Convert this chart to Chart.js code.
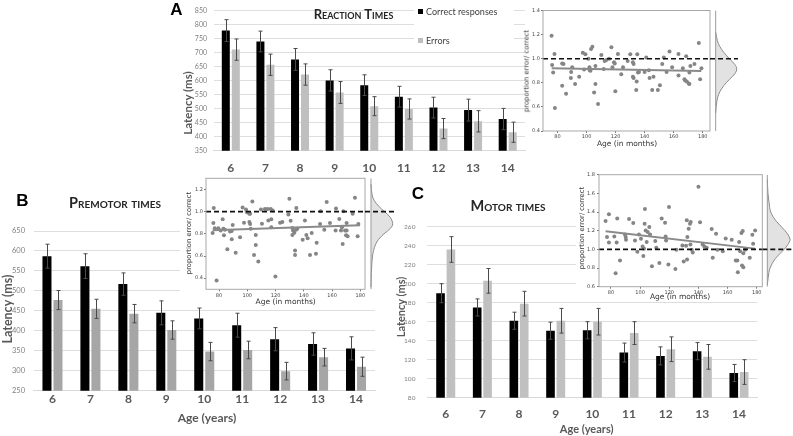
<!DOCTYPE html>
<html><head><meta charset="utf-8">
<script src="https://cdn.jsdelivr.net/npm/chart.js@4.4.1/dist/chart.umd.min.js"></script>
<style>
html,body{margin:0;padding:0;background:#fff;}
#wrap{position:relative;width:793px;height:436px;overflow:hidden;background:#fff;}
canvas{position:absolute;left:0;top:0;}
.t{position:absolute;white-space:nowrap;line-height:1;transform:translate(-50%,-50%);}
.r{transform:translate(-50%,-50%) rotate(-90deg);}
.letter{font-family:'Liberation Sans',Arial,sans-serif;font-weight:bold;font-size:17px;color:#000;}
.title{font-family:Lato,sans-serif;font-weight:bold;font-variant:small-caps;color:#262626;}
.lat{font-family:Lato,sans-serif;font-weight:bold;color:#595959;}
.ins{font-family:'DejaVu Sans',sans-serif;color:#333;}
.white{position:absolute;background:#fff;}
.leg{position:absolute;font-family:Lato,sans-serif;font-size:9px;color:#404040;line-height:1;white-space:nowrap;}
.sq{position:absolute;width:5px;height:5px;}
</style></head>
<body>
<div id="wrap">
<canvas id="barA" width="793" height="436"></canvas>
<canvas id="barB" width="793" height="436"></canvas>
<canvas id="barC" width="793" height="436"></canvas>
<div class="white" style="left:414px;top:3px;width:100px;height:43px"></div>
<div class="white" style="left:180px;top:172px;width:220px;height:134px"></div>
<div class="white" style="left:576px;top:166px;width:217px;height:136px"></div>
<canvas id="scA" width="793" height="436"></canvas>
<canvas id="dnA" width="793" height="436"></canvas>
<canvas id="scB" width="793" height="436"></canvas>
<canvas id="dnB" width="793" height="436"></canvas>
<canvas id="scC" width="793" height="436"></canvas>
<canvas id="dnC" width="793" height="436"></canvas>

<div class="t letter" style="left:176.5px;top:9px">A</div>
<div class="t letter" style="left:22.5px;top:200.3px">B</div>
<div class="t letter" style="left:418px;top:193px">C</div>

<div class="t title" style="left:353.5px;top:14px;font-size:13px">Reaction Times</div>
<div class="t title" style="left:115px;top:203px;font-size:14.5px">Premotor times</div>
<div class="t title" style="left:508px;top:206px;font-size:14.5px">Motor times</div>

<div class="sq" style="left:418px;top:9px;background:#000"></div>
<div class="leg" style="left:426px;top:7px">Correct responses</div>
<div class="sq" style="left:418px;top:38px;background:#bfbfbf"></div>
<div class="leg" style="left:426px;top:36px">Errors</div>

<div class="t r lat" style="left:188px;top:103px;font-size:11.5px">Latency (ms)</div>
<div class="t r lat" style="left:8px;top:309px;font-size:12.5px">Latency (ms)</div>
<div class="t r lat" style="left:400px;top:306.7px;font-size:11px">Latency (ms)</div>
<div class="t lat" style="left:207px;top:418px;font-size:12px">Age (years)</div>
<div class="t lat" style="left:586.7px;top:428.3px;font-size:11px">Age (years)</div>

<div class="t r ins" style="left:527px;top:70.8px;font-size:6.8px">proportion error/ correct</div>
<div class="t ins" style="left:627px;top:144px;font-size:7.5px">Age (in months)</div>
<div class="t r ins" style="left:189px;top:233px;font-size:6.8px">proportion error/ correct</div>
<div class="t ins" style="left:285.7px;top:301.7px;font-size:7.5px">Age (in months)</div>
<div class="t r ins" style="left:581.7px;top:228px;font-size:6.8px">proportion error/ correct</div>
<div class="t ins" style="left:680px;top:296.7px;font-size:7.5px">Age (in months)</div>
</div>

<script>
// ---------- DATA ----------
const ageYears = ['6','7','8','9','10','11','12','13','14'];

const rtCorrect   = [779, 740, 676, 601, 584, 543, 504, 495, 463];
const rtCorrectSE = [39, 37, 39, 38, 37, 37, 37, 39, 38];
const rtErrors    = [711, 657, 622, 558, 509, 499, 429, 455, 416];
const rtErrorsSE  = [38, 38, 38, 39, 34, 36, 36, 38, 36];

const pmCorrect   = [587, 562, 517, 445, 431, 414, 379, 367, 356];
const pmCorrectSE = [30, 31, 28, 30, 26, 30, 29, 28, 29];
const pmErrors    = [477, 455, 443, 402, 348, 352, 299, 334, 310];
const pmErrorsSE  = [24, 24, 23, 23, 23, 22, 22, 22, 24];

const mtCorrect   = [190, 175, 161, 150.5, 151, 127.5, 124, 129, 106];
const mtCorrectSE = [10, 9, 9, 9, 9, 10, 9.5, 9, 9];
const mtErrors    = [236, 203, 179, 161, 160, 148, 131, 123, 107];
const mtErrorsSE  = [13.5, 13, 13, 13, 14, 12, 13, 13, 13];

const rtTicks = [350,400,450,500,550,600,650,700,750,800,850];
const pmTicks = [250,300,350,400,450,500,550,600,650];
const mtTicks = [80,100,120,140,160,180,200,220,240,260];

const monthTicks = [80,100,120,140,160,180];
const ratioTicksA = [0.4,0.6,0.8,1.0,1.2,1.4];
const ratioTicksB = [0.4,0.6,0.8,1.0,1.2];
const ratioTicksC = [0.6,0.8,1.0,1.2,1.4,1.6,1.8];

// scatter: [age in months, proportion error/correct]
const rtRatio = [[75.9,1.19],[76.3,0.947],[77.0,0.886],[77.9,1.04],[78.2,0.59],[83.2,0.96],[84.1,0.955],[83.2,0.775],[85.9,0.71],[89.2,0.84],[89.4,0.89],[90.1,0.93],[92.1,0.79],[94.9,0.85],[97.4,1.05],[99.2,1.036],[98.3,0.91],[101.3,1.0],[102.0,0.93],[102.2,0.905],[102.7,0.9],[103.1,1.08],[104.0,1.10],[105.2,0.72],[106.1,0.79],[106.1,0.94],[107.9,0.625],[110.2,1.03],[111.8,0.915],[112.5,0.98],[113.6,0.99],[115.5,1.0],[117.1,1.094],[117.8,0.93],[118.9,0.97],[119.4,0.96],[119.8,0.73],[121.6,1.04],[123.9,0.87],[125.1,0.93],[128.3,0.98],[130.1,1.036],[131.9,0.97],[132.4,0.955],[131.9,0.85],[132.4,0.84],[134.2,0.74],[134.5,0.81],[134.9,1.036],[135.4,0.886],[136.1,0.89],[140.0,0.89],[141.1,1.01],[142.9,0.905],[143.4,0.84],[145.2,0.74],[146.1,0.85],[149.1,0.74],[150.5,0.78],[152.1,0.955],[153.2,1.01],[155.1,0.89],[157.1,1.06],[158.9,0.93],[163.3,1.04],[163.3,0.86],[166.3,0.92],[167.4,0.83],[167.9,0.82],[168.6,1.02],[169.0,0.81],[170.4,0.795],[170.8,0.79],[170.8,0.886],[171.5,0.94],[174.3,0.955],[177.3,1.13],[178.2,0.83],[179.1,0.92]];
const pmRatio = [[76,0.898],[75.5,0.807],[77,0.85],[76.3,1.033],[78.3,0.38],[79.5,0.85],[81.2,0.83],[82.6,0.93],[83.1,0.846],[83.5,0.786],[84.2,0.837],[85.9,0.66],[87.8,0.82],[89,0.825],[89,0.75],[89.7,0.88],[91.8,0.63],[94.9,0.77],[96.7,1.036],[97.7,0.9],[99.1,1.018],[99.6,0.997],[100.8,0.99],[101.5,0.98],[102,0.98],[101.5,0.906],[102,0.888],[102.4,0.846],[103.6,1.09],[104.8,0.61],[106,0.70],[106,0.79],[107.8,0.55],[109.7,1.02],[110.4,0.89],[112.5,1.024],[114.4,1.024],[114.9,0.92],[116.6,1.024],[117,0.93],[117,0.86],[118,1.009],[119.9,0.415],[123.2,0.9],[124.8,0.906],[129.1,0.973],[129.8,1.115],[130.7,0.918],[131.9,0.852],[131.9,0.79],[132.4,0.83],[133.3,0.81],[133.8,0.65],[133.8,0.61],[134.7,1.033],[134.5,0.837],[135.4,0.846],[139.2,0.747],[140.8,0.92],[141.8,0.79],[142.7,0.76],[144.4,0.61],[145.6,0.807],[148.6,0.62],[149.1,0.72],[151.5,0.888],[151.9,1.003],[154.5,0.837],[156.2,1.087],[158.5,0.898],[162.5,0.83],[162.8,1.027],[165.1,0.934],[166.3,0.83],[167,0.858],[167.5,0.707],[168,1.003],[169.2,0.83],[170.3,0.83],[170.3,0.898],[169.9,0.786],[171,0.777],[174.6,0.98],[176.2,1.124],[178.1,0.777],[178.6,0.888]];
const mtRatio = [[76.3,1.304],[77.3,1.132],[78.6,1.376],[78.6,1.074],[82.3,1.139],[83.2,0.744],[83.9,1.074],[84.3,1.33],[86.2,0.88],[89.6,1.16],[90.1,1.132],[90.3,1.103],[92.4,1.326],[95.3,1.283],[96.5,1.096],[98.1,0.974],[99.2,1.16],[100.6,1.114],[101.7,1.031],[102.2,0.93],[102.7,1.006],[103.3,1.433],[103.1,1.275],[103.8,1.203],[104.5,1.078],[105.2,1.186],[106.3,1.24],[106.8,1.16],[108.1,0.82],[110.4,1.089],[111.1,1.017],[113.2,0.855],[114.8,1.33],[117.1,1.286],[117.5,1.139],[117.8,1.096],[119.8,1.455],[119.4,0.837],[124.2,0.79],[124.9,0.995],[129.0,1.042],[129.9,0.869],[131.5,1.038],[132.0,1.311],[132.2,0.891],[132.4,1.132],[133.3,1.221],[134.2,1.275],[134.7,1.293],[134.5,1.053],[135.4,0.995],[136.1,0.966],[140.0,1.671],[141.1,1.29],[142.9,1.053],[144.1,1.031],[145.7,1.017],[149.1,1.218],[149.8,0.909],[152.1,1.168],[153.0,0.995],[156.7,0.981],[158.7,1.117],[162.8,1.103],[165.6,0.88],[166.7,0.88],[167.0,0.754],[167.9,1.078],[168.6,0.981],[169.5,1.175],[169.9,0.826],[170.4,1.196],[170.8,0.808],[170.8,0.959],[172.0,0.995],[175.2,0.909],[177.0,1.157],[177.5,1.06],[178.9,1.203]];

// fitted lines: [month, ratio]
const rtFit = [[76,0.92],[179,0.897]];
const pmFit = [[75.5,0.832],[179.8,0.876]];
const mtFit = [[76.3,1.195],[178.9,1.008]];

// marginal densities: [ratio, relative density]
const rtDensity = [[1.22,0],[1.15,0.08],[1.10,0.2],[1.05,0.4],[1.00,0.65],[0.95,0.92],[0.915,1.0],[0.88,0.93],[0.85,0.78],[0.80,0.5],[0.75,0.28],[0.70,0.13],[0.65,0.06],[0.60,0.02],[0.55,0]];
const pmDensity = [[1.25,0],[1.15,0.05],[1.10,0.15],[1.05,0.35],[1.00,0.62],[0.95,0.88],[0.89,1.0],[0.85,0.9],[0.80,0.6],[0.75,0.35],[0.70,0.2],[0.65,0.12],[0.60,0.07],[0.50,0.03],[0.40,0.01],[0.32,0]];
const mtDensity = [[1.75,0],[1.6,0.03],[1.5,0.08],[1.4,0.15],[1.3,0.4],[1.2,0.78],[1.11,1.0],[1.05,0.9],[1.0,0.74],[0.9,0.35],[0.8,0.12],[0.7,0.04],[0.62,0]];

// ---------- RENDER ----------
const W = 793, H = 436;
const pts = a => a.map(p => ({x:p[0], y:p[1]}));

const errorBarPlugin = {
  id:'errorBars',
  afterDatasetsDraw(chart){
    const ctx = chart.ctx, ys = chart.scales.y;
    ctx.save();
    ctx.strokeStyle = '#4a4a4a'; ctx.lineWidth = 1;
    chart.data.datasets.forEach((ds, di) => {
      if (!ds.errorBars) return;
      chart.getDatasetMeta(di).data.forEach((bar, i) => {
        const v = ds.data[i], e = ds.errorBars[i];
        const x = Math.round(bar.x) + 0.5;
        const yt = ys.getPixelForValue(v + e), yb = ys.getPixelForValue(v - e);
        ctx.beginPath();
        ctx.moveTo(x, yt); ctx.lineTo(x, yb);
        ctx.moveTo(x-2, yt); ctx.lineTo(x+2, yt);
        ctx.moveTo(x-2, yb); ctx.lineTo(x+2, yb);
        ctx.stroke();
      });
    });
    ctx.restore();
  }
};

const boxPlugin = {
  id:'box',
  afterDraw(chart){
    const a = chart.chartArea, ctx = chart.ctx;
    ctx.save(); ctx.strokeStyle = '#a8a8a8'; ctx.lineWidth = 1;
    ctx.strokeRect(a.left, a.top, a.right - a.left, a.bottom - a.top);
    ctx.restore();
  }
};

function barChart(id, o){
  const yW = 25, xH = 25;
  return new Chart(document.getElementById(id), {
    type:'bar',
    data:{labels: ageYears, datasets:[
      {label:'Correct responses', data:o.c, errorBars:o.cse, backgroundColor:'#000000'},
      {label:'Errors', data:o.e, errorBars:o.ese, backgroundColor:o.gray}
    ]},
    plugins:[errorBarPlugin],
    options:{
      responsive:false, animation:false, events:[],
      layout:{padding:{left:o.area.l - yW, top:o.area.t, right:W - o.area.r, bottom:H - o.area.b - xH}},
      datasets:{bar:{categoryPercentage:o.cp, barPercentage:o.bp}},
      plugins:{legend:{display:false}, tooltip:{enabled:false}},
      scales:{
        x:{grid:{display:false, drawTicks:false}, border:{display:true, color:'#d9d9d9'},
           ticks:{font:{family:'Lato', size:12, weight:'bold'}, color:'#595959', padding:o.xpad},
           afterFit:s => { s.height = xH; }},
        y:{min:o.min, max:o.max, grid:{color:'#dedede', drawTicks:false}, border:{display:false},
           afterBuildTicks:s => { s.ticks = o.ticks.map(v => ({value:v})); },
           ticks:{font:{family:'Lato', size:o.yfs}, color:'#7f7f7f', padding:o.ypad},
           afterFit:s => { s.width = yW; }}
      }
    }
  });
}

barChart('barA', {c:rtCorrect, cse:rtCorrectSE, e:rtErrors, ese:rtErrorsSE, gray:'#bfbfbf',
  area:{l:213.5, t:10, r:525, b:150.7}, min:350, max:850, ticks:rtTicks, cp:0.578, bp:0.8, xpad:10, ypad:6.5, yfs:7});
barChart('barB', {c:pmCorrect, cse:pmCorrectSE, e:pmErrors, ese:pmErrorsSE, gray:'#a6a6a6',
  area:{l:33.5, t:231, r:375, b:390.7}, min:250, max:650, ticks:pmTicks, cp:0.58, bp:0.82, xpad:1.4, ypad:8.5, yfs:7.5});
barChart('barC', {c:mtCorrect, cse:mtCorrectSE, e:mtErrors, ese:mtErrorsSE, gray:'#c0c0c0',
  area:{l:427.4, t:226.7, r:757.3, b:397.7}, min:80, max:260, ticks:mtTicks, cp:0.567, bp:0.83, xpad:9.4, ypad:12, yfs:6.5});

function scatterChart(id, o){
  const yW = 13, xH = 12;
  return new Chart(document.getElementById(id), {
    type:'scatter',
    data:{datasets:[
      {data:[{x:o.xmin, y:1},{x:o.xmax, y:1}], showLine:true, borderColor:'#111', borderDash:[5,3], borderWidth:1.6, pointRadius:0},
      {data:pts(o.fit), showLine:true, borderColor:'#8a8a8a', borderWidth:2, pointRadius:0},
      {data:pts(o.pts), backgroundColor:'#858585', borderWidth:0, pointRadius:2}
    ]},
    plugins:[boxPlugin],
    options:{
      responsive:false, animation:false, events:[],
      layout:{padding:{left:o.area.l - yW, top:o.area.t, right:W - o.area.r, bottom:H - o.area.b - xH}},
      plugins:{legend:{display:false}, tooltip:{enabled:false}},
      scales:{
        x:{type:'linear', min:o.xmin, max:o.xmax, border:{display:false},
           grid:{drawOnChartArea:false, drawTicks:true, tickLength:2, color:'#777'},
           afterBuildTicks:s => { s.ticks = monthTicks.map(v => ({value:v})); },
           ticks:{font:{family:'DejaVu Sans', size:5}, color:'#444', padding:1, maxRotation:0},
           afterFit:s => { s.height = xH; }},
        y:{type:'linear', min:o.ymin, max:o.ymax, border:{display:false},
           grid:{drawOnChartArea:false, drawTicks:true, tickLength:2, color:'#777'},
           afterBuildTicks:s => { s.ticks = o.yticks.map(v => ({value:v})); },
           ticks:{font:{family:'DejaVu Sans', size:5}, color:'#444', padding:o.ypad, callback:v => v.toFixed(1)},
           afterFit:s => { s.width = yW; }}
      }
    }
  });
}

function densityChart(id, o){
  return new Chart(document.getElementById(id), {
    type:'line',
    data:{datasets:[
      {data:[{x:-o.k, y:1},{x:o.m, y:1}], borderColor:'#111', borderDash:[5,3], borderWidth:1.6, pointRadius:0, fill:false},
      {data:[{x:0, y:o.ymin},{x:0, y:o.ymax}], borderColor:'#9a9a9a', borderWidth:1, pointRadius:0, fill:false},
      {data:o.dens.map(p => ({x:p[1], y:p[0]})), borderColor:'#8c8c8c', borderWidth:1, backgroundColor:'#e2e2e2', fill:'origin', pointRadius:0, tension:0.35}
    ]},
    options:{
      indexAxis:'y', responsive:false, animation:false, events:[],
      layout:{padding:{left:o.area.l, top:o.area.t, right:W - o.area.r, bottom:H - o.area.b}},
      plugins:{legend:{display:false}, tooltip:{enabled:false}},
      scales:{
        x:{type:'linear', min:-o.k, max:o.m, display:false},
        y:{type:'linear', min:o.ymin, max:o.ymax, display:false}
      }
    }
  });
}

scatterChart('scA', {pts:rtRatio, fit:rtFit, area:{l:543, t:10.5, r:710, b:131}, xmin:70, xmax:185, ymin:0.4, ymax:1.4, yticks:ratioTicksA, ypad:1});
densityChart('dnA', {dens:rtDensity, area:{l:710, t:10.5, r:738, b:131}, k:0.27, m:1.06, ymin:0.4, ymax:1.4});
scatterChart('scB', {pts:pmRatio, fit:pmFit, area:{l:206, t:178.3, r:365, b:289.3}, xmin:70.8, xmax:183.3, ymin:0.3, ymax:1.3, yticks:ratioTicksB, ypad:1});
densityChart('dnB', {dens:pmDensity, area:{l:365, t:178.3, r:394, b:289.3}, k:0.276, m:1.06, ymin:0.3, ymax:1.3});
scatterChart('scC', {pts:mtRatio, fit:mtFit, area:{l:599, t:174.7, r:762.3, b:286.7}, xmin:71.8, xmax:183.8, ymin:0.6, ymax:1.8, yticks:ratioTicksC, ypad:2});
densityChart('dnC', {dens:mtDensity, area:{l:762.3, t:174.7, r:793, b:286.7}, k:0.22, m:1.13, ymin:0.6, ymax:1.8});
</script>
</body></html>
